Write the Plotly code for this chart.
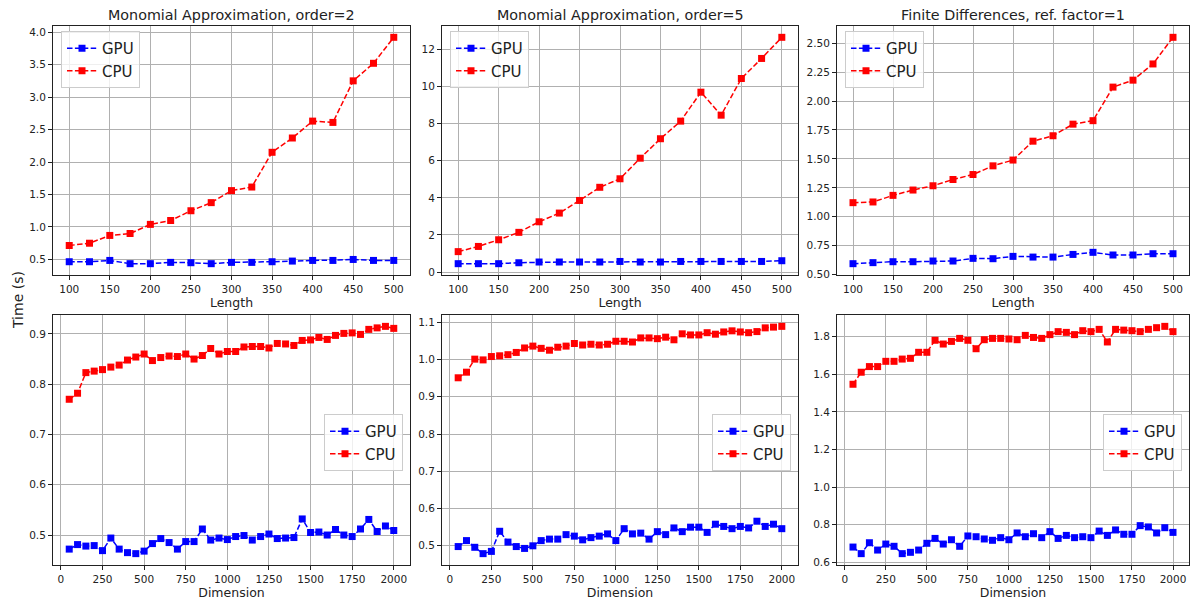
import plotly.graph_objects as go

W, H = 1191, 601

length = [100, 125, 150, 175, 200, 225, 250, 275, 300, 325, 350, 375, 400, 425, 450, 475, 500]
dimension = list(range(50, 2001, 50))

mono2_gpu = [0.465, 0.465, 0.485, 0.435, 0.435, 0.455, 0.45, 0.435, 0.455, 0.455, 0.465, 0.475, 0.485, 0.485, 0.50, 0.485, 0.485]
mono2_cpu = [0.715, 0.75, 0.87, 0.90, 1.04, 1.10, 1.25, 1.375, 1.56, 1.615, 2.15, 2.37, 2.63, 2.61, 3.25, 3.52, 3.92]

mono5_gpu = [0.45, 0.45, 0.45, 0.50, 0.54, 0.54, 0.54, 0.54, 0.57, 0.54, 0.54, 0.57, 0.57, 0.57, 0.57, 0.57, 0.61]
mono5_cpu = [1.10, 1.38, 1.74, 2.14, 2.71, 3.18, 3.86, 4.57, 5.03, 6.14, 7.19, 8.14, 9.70, 8.46, 10.44, 11.52, 12.66]

fd_gpu = [0.595, 0.604, 0.612, 0.612, 0.618, 0.618, 0.641, 0.638, 0.658, 0.652, 0.652, 0.675, 0.693, 0.67, 0.67, 0.681, 0.681]
fd_cpu = [1.122, 1.128, 1.185, 1.231, 1.268, 1.322, 1.365, 1.44, 1.49, 1.653, 1.70, 1.80, 1.83, 2.12, 2.18, 2.32, 2.55]

dim1_gpu = [0.472, 0.481, 0.478, 0.479, 0.469, 0.494, 0.472, 0.465, 0.463, 0.468,
            0.483, 0.493, 0.485, 0.472, 0.487, 0.487, 0.512, 0.490, 0.494, 0.491,
            0.497, 0.499, 0.490, 0.497, 0.502, 0.493, 0.494, 0.495, 0.532, 0.505,
            0.506, 0.500, 0.511, 0.500, 0.497, 0.512, 0.531, 0.507, 0.518, 0.509]
dim1_cpu = [0.770, 0.782, 0.823, 0.826, 0.829, 0.834, 0.838, 0.848, 0.854, 0.860,
            0.847, 0.853, 0.856, 0.855, 0.860, 0.850, 0.857, 0.871, 0.860, 0.865,
            0.865, 0.874, 0.875, 0.875, 0.872, 0.881, 0.880, 0.877, 0.887, 0.888,
            0.893, 0.889, 0.897, 0.901, 0.902, 0.899, 0.909, 0.912, 0.915, 0.911]

dim2_gpu = [0.498, 0.514, 0.496, 0.479, 0.485, 0.539, 0.510, 0.498, 0.493, 0.500,
            0.514, 0.518, 0.518, 0.530, 0.526, 0.516, 0.522, 0.526, 0.532, 0.514,
            0.546, 0.532, 0.534, 0.518, 0.538, 0.530, 0.548, 0.538, 0.550, 0.550,
            0.536, 0.558, 0.552, 0.546, 0.552, 0.548, 0.566, 0.552, 0.558, 0.546]
dim2_cpu = [0.951, 0.966, 1.001, 0.999, 1.008, 1.010, 1.013, 1.019, 1.031, 1.036,
            1.030, 1.025, 1.033, 1.036, 1.043, 1.039, 1.041, 1.039, 1.041, 1.049,
            1.049, 1.047, 1.058, 1.058, 1.056, 1.060, 1.053, 1.069, 1.066, 1.066,
            1.072, 1.068, 1.074, 1.077, 1.074, 1.072, 1.075, 1.085, 1.087, 1.089]

dim3_gpu = [0.681, 0.646, 0.704, 0.665, 0.697, 0.685, 0.646, 0.653, 0.665, 0.701,
            0.727, 0.697, 0.720, 0.685, 0.740, 0.736, 0.724, 0.717, 0.731, 0.720,
            0.756, 0.736, 0.752, 0.731, 0.763, 0.727, 0.743, 0.731, 0.736, 0.731,
            0.766, 0.743, 0.772, 0.749, 0.749, 0.795, 0.788, 0.756, 0.784, 0.759]
dim3_cpu = [1.547, 1.611, 1.641, 1.641, 1.669, 1.669, 1.681, 1.685, 1.717, 1.717,
            1.781, 1.761, 1.775, 1.791, 1.781, 1.736, 1.784, 1.791, 1.791, 1.788,
            1.784, 1.807, 1.796, 1.791, 1.811, 1.827, 1.823, 1.811, 1.832, 1.827,
            1.839, 1.772, 1.839, 1.835, 1.832, 1.827, 1.839, 1.848, 1.855, 1.827]

titles = ["Monomial Approximation, order=2", "Monomial Approximation, order=5",
          "Finite Differences, ref. factor=1"]

panels = [
    (length, mono2_gpu, mono2_cpu, 0.5, ".1f", 50),
    (length, mono5_gpu, mono5_cpu, 2, "d", 50),
    (length, fd_gpu, fd_cpu, 0.25, ".2f", 50),
    (dimension, dim1_gpu, dim1_cpu, 0.1, ".1f", 250),
    (dimension, dim2_gpu, dim2_cpu, 0.1, ".1f", 250),
    (dimension, dim3_gpu, dim3_cpu, 0.2, ".1f", 250),
]

cols_px = [(53, 410), (442, 798), (837, 1189)]
rows_px = [(26, 275), (315, 565)]

def fx(px):
    return px / W

def fy(py):
    return 1 - py / H

FONT = "DejaVu Sans"
fig = go.Figure()
dash = "5.5px,2.4px"

def pad_range(vals):
    lo, hi = min(vals), max(vals)
    p = 0.05 * (hi - lo)
    return [lo - p, hi + p]

for i, (xs, gpu, cpu, dt, fmt, xdt) in enumerate(panels):
    r, c = divmod(i, 3)
    n = i + 1
    xa = "x" if n == 1 else f"x{n}"
    ya = "y" if n == 1 else f"y{n}"
    lg = "legend" if n == 1 else f"legend{n}"
    for name, vals, col in (("GPU", gpu, "#0000ff"), ("CPU", cpu, "#ff0000")):
        fig.add_trace(go.Scatter(
            x=xs, y=vals, name=name, mode="lines+markers",
            line=dict(color=col, width=1.5, dash=dash),
            marker=dict(symbol="square", size=7, color=col),
            xaxis=xa, yaxis=ya, legend=lg))
    x0, x1 = cols_px[c]
    y0, y1 = rows_px[r]
    axis_common = dict(showline=True, mirror=True, linecolor="#222", linewidth=1,
                       ticks="outside", ticklen=4, tickcolor="#222",
                       showgrid=True, gridcolor="#b0b0b0", gridwidth=0.8,
                       zeroline=False, automargin=False,
                       tickfont=dict(family=FONT, size=10.5, color="#222"))
    xlab = "Length" if r == 0 else "Dimension"
    fig.update_layout(**{
        ("xaxis" if n == 1 else f"xaxis{n}"): dict(
            domain=[fx(x0), fx(x1)], anchor=ya,
            range=pad_range(xs), dtick=xdt, tick0=0,
            title=dict(text=xlab, font=dict(family=FONT, size=12.5, color="#222"), standoff=2),
            **axis_common),
        ("yaxis" if n == 1 else f"yaxis{n}"): dict(
            domain=[fy(y1), fy(y0)], anchor=xa,
            range=pad_range(gpu + cpu), dtick=dt, tick0=0, tickformat=fmt,
            **axis_common),
    })
    if r == 0:
        legpos = dict(x=fx(x0 + 8), y=fy(y0 + 5), xanchor="left", yanchor="top")
    else:
        legpos = dict(x=fx(x1 - 7), y=fy(414), xanchor="right", yanchor="top")
    fig.update_layout(**{lg: dict(
        **legpos, bgcolor="rgba(255,255,255,0.8)", bordercolor="#cccccc", borderwidth=1,
        font=dict(family=FONT, size=15, color="#222"), itemwidth=30,
        tracegroupgap=0)})
    if r == 0:
        fig.add_annotation(text=titles[c], x=fx((x0 + x1) / 2), y=fy(15),
                           xref="paper", yref="paper", showarrow=False,
                           xanchor="center", yanchor="middle",
                           font=dict(family=FONT, size=14.3, color="#222"))

fig.add_annotation(text="Time (s)", x=fx(18), y=fy(300), xref="paper", yref="paper",
                   showarrow=False, textangle=-90, xanchor="center", yanchor="middle",
                   font=dict(family=FONT, size=14, color="#222"))

fig.update_layout(width=W, height=H, margin=dict(l=0, r=0, t=0, b=0, pad=0, autoexpand=False),
                  paper_bgcolor="white", plot_bgcolor="white",
                  font=dict(family=FONT))

fig.write_html("out.html", config={"displayModeBar": False},
               post_script="document.body.style.margin='0px';")
